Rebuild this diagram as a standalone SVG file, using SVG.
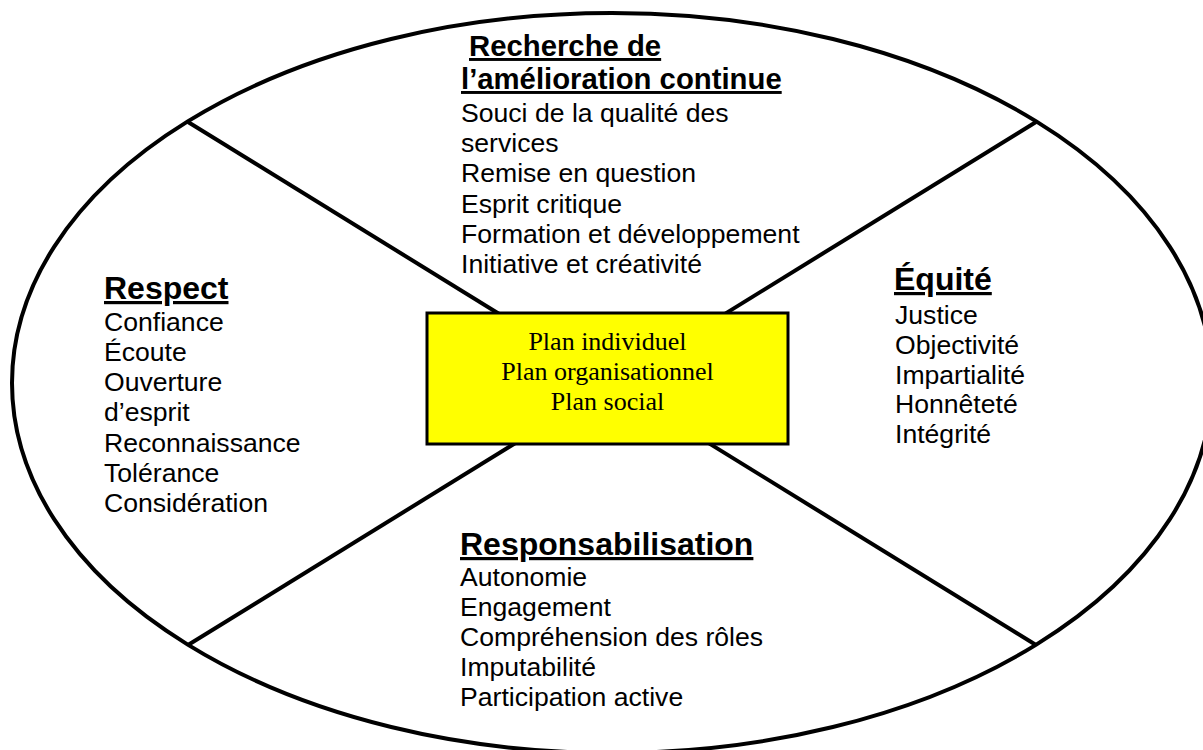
<svg xmlns="http://www.w3.org/2000/svg" width="1203" height="750" viewBox="0 0 1203 750">
<style>
.t{font-family:"Liberation Sans",Arial,sans-serif;font-size:26.6px;fill:#000}
.h{font-family:"Liberation Sans",Arial,sans-serif;font-weight:bold;font-size:32px;fill:#000;text-decoration:underline}
.h2{font-family:"Liberation Sans",Arial,sans-serif;font-weight:bold;font-size:29.3px;fill:#000;text-decoration:underline}
.c{font-family:"Liberation Serif","Times New Roman",serif;font-size:26px;fill:#000;text-anchor:middle}
.ln{stroke:#000;stroke-width:4;fill:none}
</style>
<rect x="0" y="0" width="1203" height="750" fill="#fff"/>
<g id="ring">
<ellipse cx="612" cy="383" rx="600" ry="370" class="ln"/>
</g>
<g id="connectors">
<line x1="188" y1="122" x2="1036" y2="645" class="ln"/>
<line x1="1036" y1="122" x2="188" y2="645" class="ln"/>
</g>
<g id="center">
<rect x="427" y="313" width="361" height="131" fill="#ffff00" stroke="#000" stroke-width="3"/>
<text class="c" x="607.5" y="350">Plan individuel</text>
<text class="c" x="607.5" y="380">Plan organisationnel</text>
<text class="c" x="607.5" y="410">Plan social</text>
</g>
<g id="amelioration">
<text class="h2" x="469" y="56">Recherche de</text>
<text class="h2" x="461" y="89">l’amélioration continue</text>
<text class="t" x="461" y="122">Souci de la qualité des</text>
<text class="t" x="461" y="152">services</text>
<text class="t" x="461" y="182">Remise en question</text>
<text class="t" x="461" y="213">Esprit critique</text>
<text class="t" x="461" y="243">Formation et développement</text>
<text class="t" x="461" y="273">Initiative et créativité</text>
</g>
<g id="respect">
<text class="h" x="104" y="299">Respect</text>
<text class="t" x="104" y="331">Confiance</text>
<text class="t" x="104" y="361">Écoute</text>
<text class="t" x="104" y="391">Ouverture</text>
<text class="t" x="104" y="421">d’esprit</text>
<text class="t" x="104" y="452">Reconnaissance</text>
<text class="t" x="104" y="482">Tolérance</text>
<text class="t" x="104" y="512">Considération</text>
</g>
<g id="equite">
<text class="h" x="894" y="290">Équité</text>
<text class="t" x="895" y="324">Justice</text>
<text class="t" x="895" y="354">Objectivité</text>
<text class="t" x="895" y="384">Impartialité</text>
<text class="t" x="895" y="413">Honnêteté</text>
<text class="t" x="895" y="443">Intégrité</text>
</g>
<g id="responsabilisation">
<text class="h" x="460" y="555">Responsabilisation</text>
<text class="t" x="460" y="586">Autonomie</text>
<text class="t" x="460" y="616">Engagement</text>
<text class="t" x="460" y="646">Compréhension des rôles</text>
<text class="t" x="460" y="676">Imputabilité</text>
<text class="t" x="460" y="706">Participation active</text>
</g>
</svg>
